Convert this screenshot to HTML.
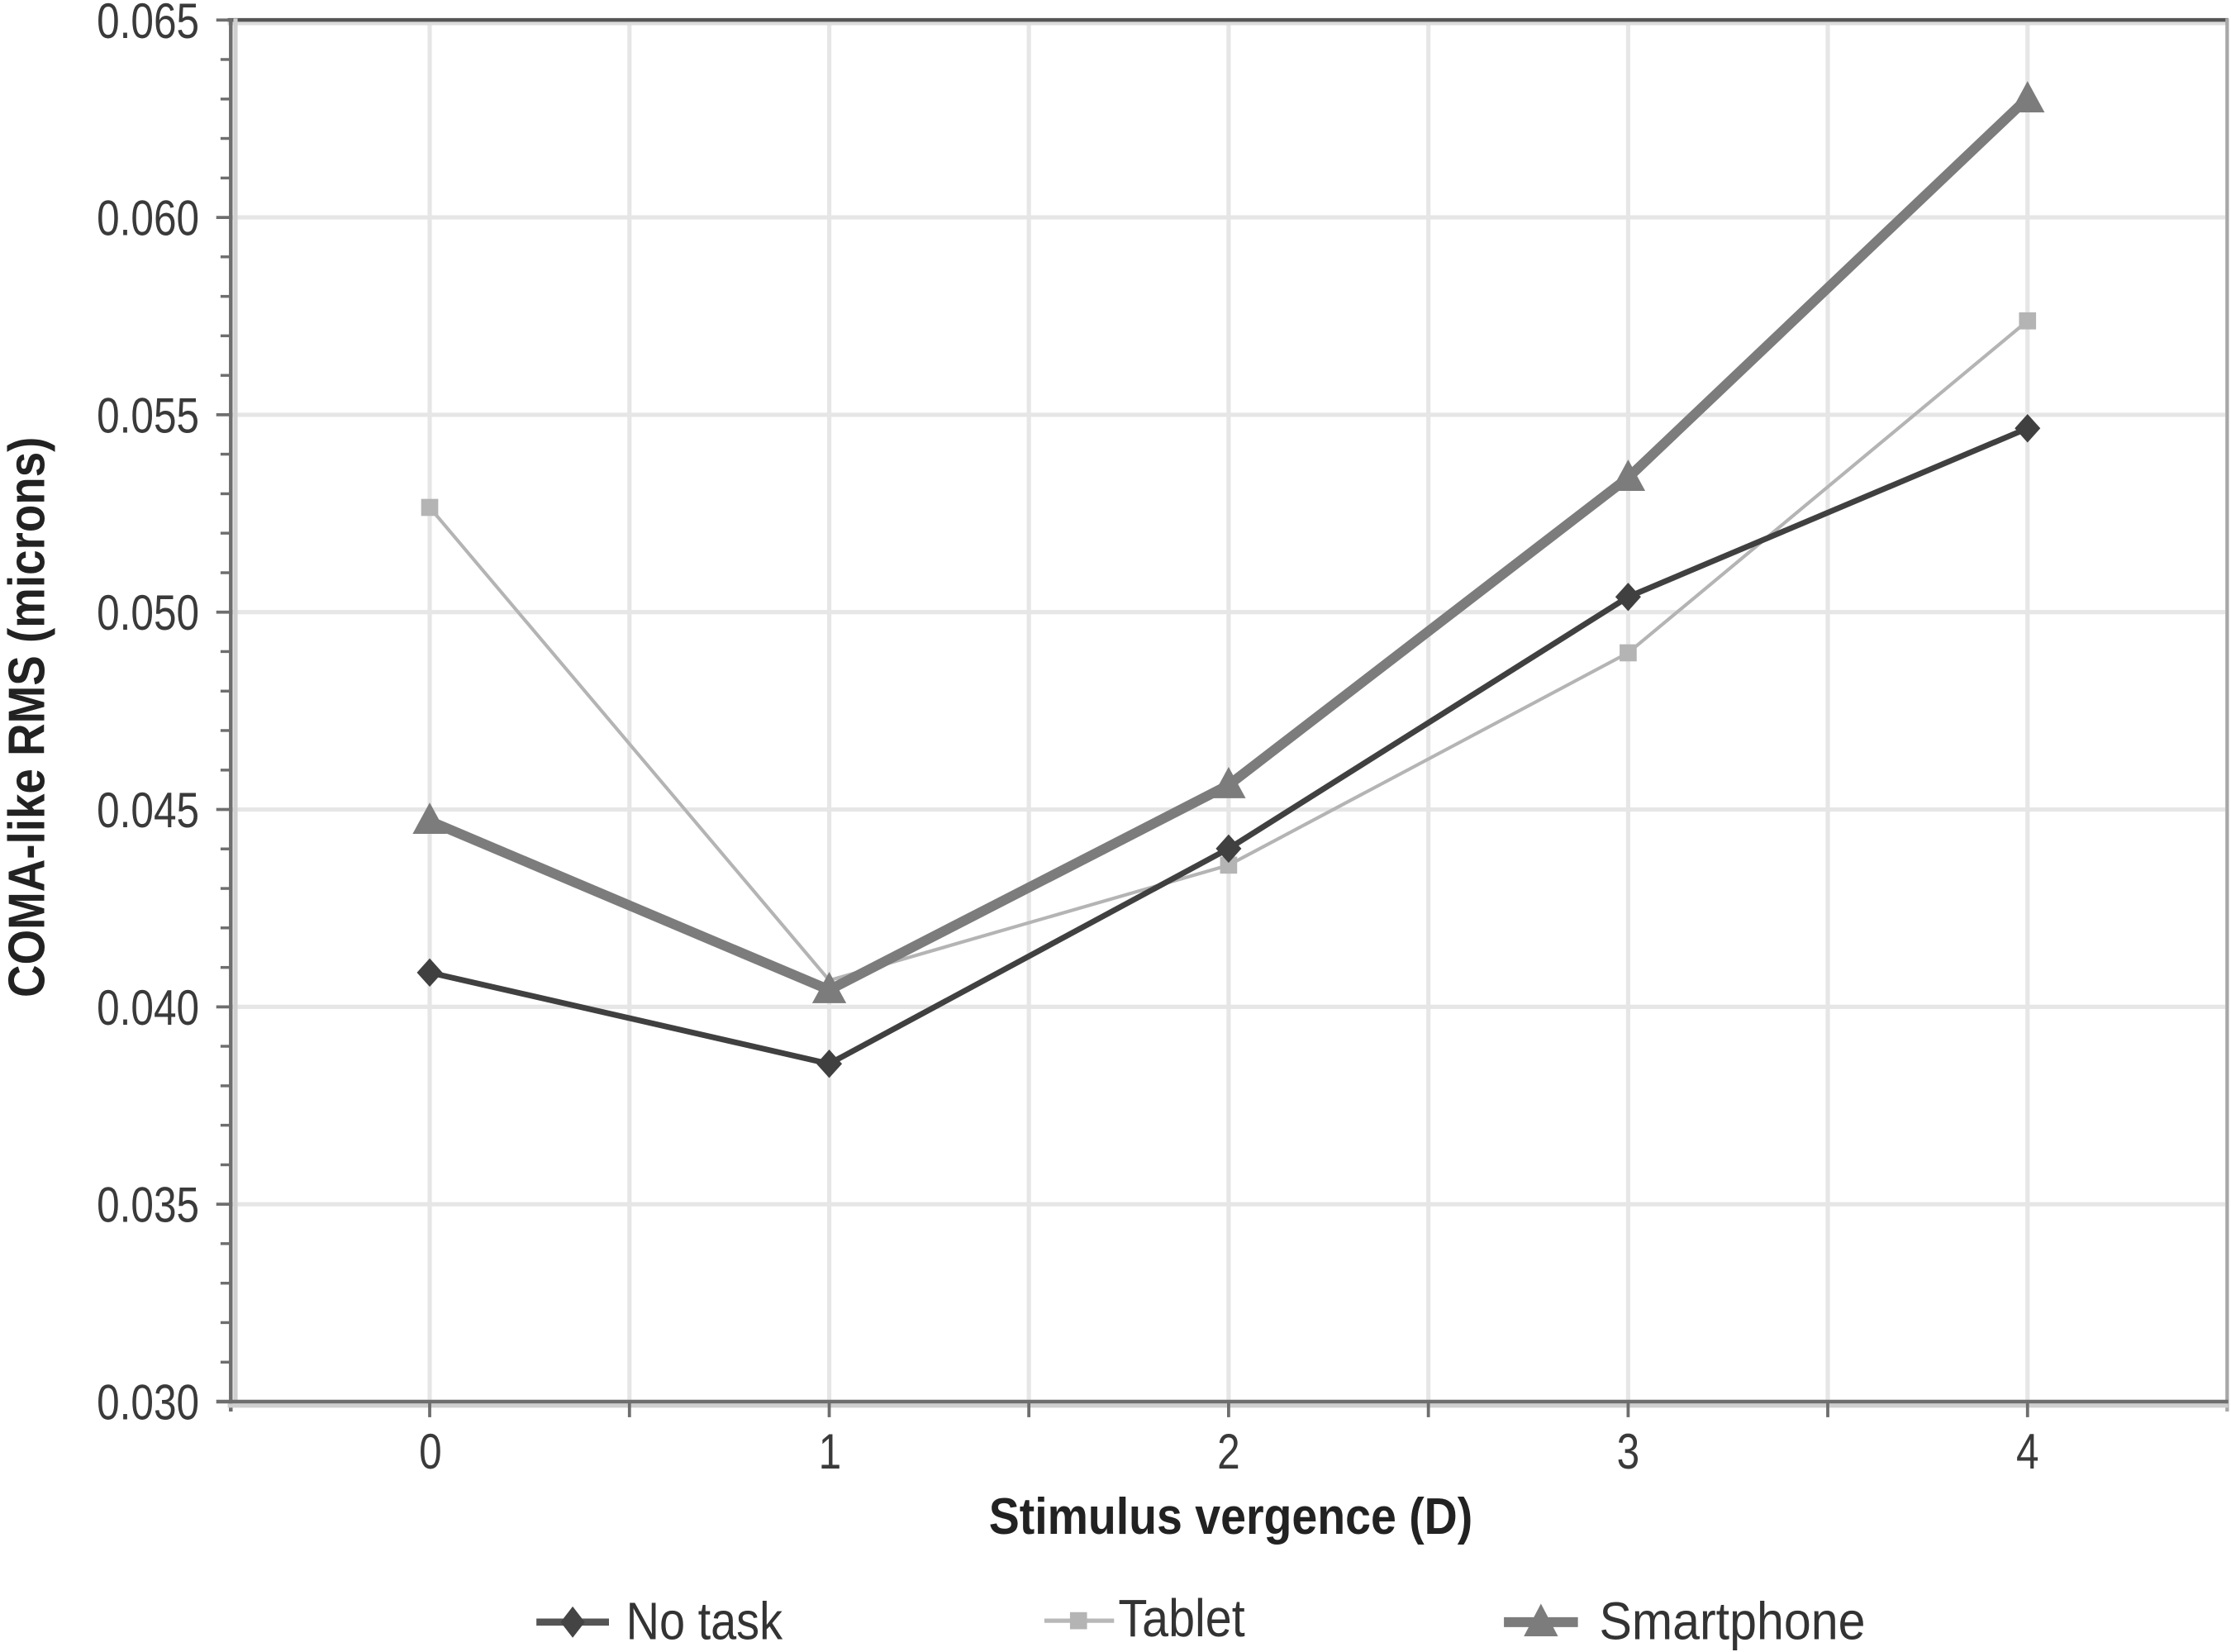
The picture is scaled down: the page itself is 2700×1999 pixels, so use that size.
<!DOCTYPE html>
<html>
<head>
<meta charset="utf-8">
<style>
html,body{margin:0;padding:0;background:#fff;}
svg{display:block;}
text{font-family:"Liberation Sans Narrow","Liberation Sans",sans-serif;}
</style>
</head>
<body>
<svg width="2700" height="1999" viewBox="0 0 1568 1161" preserveAspectRatio="none" xmlns="http://www.w3.org/2000/svg">
<rect x="0" y="0" width="1568" height="1161" fill="#fff"/>

<!-- vertical gridlines -->
<g stroke="#e6e6e6" stroke-width="3">
<line x1="302" y1="15" x2="302" y2="984"/>
<line x1="442.4" y1="15" x2="442.4" y2="984"/>
<line x1="582.8" y1="15" x2="582.8" y2="984"/>
<line x1="723.1" y1="15" x2="723.1" y2="984"/>
<line x1="863.5" y1="15" x2="863.5" y2="984"/>
<line x1="1003.9" y1="15" x2="1003.9" y2="984"/>
<line x1="1144.3" y1="15" x2="1144.3" y2="984"/>
<line x1="1284.6" y1="15" x2="1284.6" y2="984"/>
<line x1="1425" y1="15" x2="1425" y2="984"/>
</g>
<!-- horizontal gridlines -->
<g stroke="#e6e6e6" stroke-width="3">
<line x1="162" y1="152.8" x2="1564" y2="152.8"/>
<line x1="162" y1="291.5" x2="1564" y2="291.5"/>
<line x1="162" y1="430.2" x2="1564" y2="430.2"/>
<line x1="162" y1="568.9" x2="1564" y2="568.9"/>
<line x1="162" y1="707.6" x2="1564" y2="707.6"/>
<line x1="162" y1="846.3" x2="1564" y2="846.3"/>
</g>

<!-- frame -->
<line x1="160" y1="16.5" x2="1565" y2="16.5" stroke="#dcdcdc" stroke-width="2.5"/>
<line x1="160" y1="14" x2="1566" y2="14" stroke="#555" stroke-width="2.6"/>
<line x1="1565.3" y1="13" x2="1565.3" y2="992" stroke="#a8a8a8" stroke-width="2.5"/>
<line x1="165.5" y1="13" x2="165.5" y2="986" stroke="#cfcfcf" stroke-width="3"/>
<line x1="162.2" y1="13" x2="162.2" y2="992" stroke="#6e6e6e" stroke-width="2.6"/>
<line x1="160" y1="987.8" x2="1566" y2="987.8" stroke="#cfcfcf" stroke-width="3"/>
<line x1="152" y1="985" x2="1566" y2="985" stroke="#6e6e6e" stroke-width="2.6"/>

<!-- y ticks -->
<g stroke="#6e6e6e" stroke-width="2.2">
<line x1="152" y1="14.1" x2="162" y2="14.1"/>
<line x1="152" y1="152.8" x2="162" y2="152.8"/>
<line x1="152" y1="291.5" x2="162" y2="291.5"/>
<line x1="152" y1="430.2" x2="162" y2="430.2"/>
<line x1="152" y1="568.9" x2="162" y2="568.9"/>
<line x1="152" y1="707.6" x2="162" y2="707.6"/>
<line x1="152" y1="846.3" x2="162" y2="846.3"/>
</g>
<g stroke="#6e6e6e" stroke-width="2">
<line x1="155" y1="41.8" x2="162" y2="41.8"/><line x1="155" y1="69.6" x2="162" y2="69.6"/><line x1="155" y1="97.3" x2="162" y2="97.3"/><line x1="155" y1="125.1" x2="162" y2="125.1"/>
<line x1="155" y1="180.5" x2="162" y2="180.5"/><line x1="155" y1="208.3" x2="162" y2="208.3"/><line x1="155" y1="236" x2="162" y2="236"/><line x1="155" y1="263.8" x2="162" y2="263.8"/>
<line x1="155" y1="319.2" x2="162" y2="319.2"/><line x1="155" y1="347" x2="162" y2="347"/><line x1="155" y1="374.7" x2="162" y2="374.7"/><line x1="155" y1="402.5" x2="162" y2="402.5"/>
<line x1="155" y1="457.9" x2="162" y2="457.9"/><line x1="155" y1="485.7" x2="162" y2="485.7"/><line x1="155" y1="513.4" x2="162" y2="513.4"/><line x1="155" y1="541.2" x2="162" y2="541.2"/>
<line x1="155" y1="596.6" x2="162" y2="596.6"/><line x1="155" y1="624.4" x2="162" y2="624.4"/><line x1="155" y1="652.1" x2="162" y2="652.1"/><line x1="155" y1="679.9" x2="162" y2="679.9"/>
<line x1="155" y1="735.3" x2="162" y2="735.3"/><line x1="155" y1="763.1" x2="162" y2="763.1"/><line x1="155" y1="790.8" x2="162" y2="790.8"/><line x1="155" y1="818.6" x2="162" y2="818.6"/>
<line x1="155" y1="874" x2="162" y2="874"/><line x1="155" y1="901.8" x2="162" y2="901.8"/><line x1="155" y1="929.5" x2="162" y2="929.5"/><line x1="155" y1="957.3" x2="162" y2="957.3"/>
</g>
<!-- x ticks -->
<g stroke="#6e6e6e" stroke-width="2.2">
<line x1="302" y1="985" x2="302" y2="996"/>
<line x1="442.4" y1="985" x2="442.4" y2="996"/>
<line x1="582.8" y1="985" x2="582.8" y2="996"/>
<line x1="723.1" y1="985" x2="723.1" y2="996"/>
<line x1="863.5" y1="985" x2="863.5" y2="996"/>
<line x1="1003.9" y1="985" x2="1003.9" y2="996"/>
<line x1="1144.3" y1="985" x2="1144.3" y2="996"/>
<line x1="1284.6" y1="985" x2="1284.6" y2="996"/>
<line x1="1425" y1="985" x2="1425" y2="996"/>
</g>

<!-- y tick labels -->
<g font-size="35" fill="#3a3a3a" lengthAdjust="spacingAndGlyphs">
<text x="68" y="26.6" textLength="72" lengthAdjust="spacingAndGlyphs">0.065</text>
<text x="68" y="165.3" textLength="72" lengthAdjust="spacingAndGlyphs">0.060</text>
<text x="68" y="304" textLength="72" lengthAdjust="spacingAndGlyphs">0.055</text>
<text x="68" y="442.7" textLength="72" lengthAdjust="spacingAndGlyphs">0.050</text>
<text x="68" y="581.4" textLength="72" lengthAdjust="spacingAndGlyphs">0.045</text>
<text x="68" y="720.1" textLength="72" lengthAdjust="spacingAndGlyphs">0.040</text>
<text x="68" y="858.8" textLength="72" lengthAdjust="spacingAndGlyphs">0.035</text>
<text x="68" y="997.5" textLength="72" lengthAdjust="spacingAndGlyphs">0.030</text>
</g>
<!-- x tick labels -->
<g font-size="35" fill="#3a3a3a">
<text x="294.5" y="1032" textLength="16" lengthAdjust="spacingAndGlyphs">0</text>
<text x="575.3" y="1032" textLength="16" lengthAdjust="spacingAndGlyphs">1</text>
<text x="855.5" y="1032" textLength="16" lengthAdjust="spacingAndGlyphs">2</text>
<text x="1136.3" y="1032" textLength="16" lengthAdjust="spacingAndGlyphs">3</text>
<text x="1417" y="1032" textLength="16" lengthAdjust="spacingAndGlyphs">4</text>
</g>

<!-- axis titles -->
<text x="695" y="1078" font-size="36" font-weight="bold" fill="#222" textLength="340" lengthAdjust="spacingAndGlyphs">Stimulus vergence (D)</text>
<text x="0" y="0" font-size="36" font-weight="bold" fill="#222" textLength="394" lengthAdjust="spacingAndGlyphs" transform="translate(31 701) rotate(-90)">COMA-like RMS (microns)</text>

<!-- Tablet series -->
<polyline points="302,356.6 582.8,689 863.5,608 1144.3,458.8 1425,225.5" fill="none" stroke="#b4b4b4" stroke-width="2.4" stroke-linejoin="round"/>
<g fill="#b4b4b4">
<rect x="296" y="350.6" width="12" height="12"/>
<rect x="857.5" y="602" width="12" height="12"/>
<rect x="1138.3" y="452.8" width="12" height="12"/>
<rect x="1419" y="219.5" width="12" height="12"/>
</g>

<!-- No task series -->
<polyline points="302,683.5 582.8,747.6 863.5,596.4 1144.3,419.5 1425,301" fill="none" stroke="#404040" stroke-width="4" stroke-linejoin="round"/>
<g fill="#404040">
<polygon points="302,673.5 311,683.5 302,693.5 293,683.5"/>
<polygon points="582.8,737.6 591.8,747.6 582.8,757.6 573.8,747.6"/>
<polygon points="863.5,586.4 872.5,596.4 863.5,606.4 854.5,596.4"/>
<polygon points="1144.3,409.5 1153.3,419.5 1144.3,429.5 1135.3,419.5"/>
<polygon points="1425,291 1434,301 1425,311 1416,301"/>
</g>

<!-- Smartphone series -->
<polyline points="302,577 582.8,695.7 863.5,551.7 1144.3,335.7 1425,69" fill="none" stroke="#7c7c7c" stroke-width="7" stroke-linejoin="round"/>
<g fill="#7c7c7c">
<polygon points="302,564 314,586 290,586"/>
<polygon points="582.8,683 594.8,705 570.8,705"/>
<polygon points="863.5,539 875.5,561 851.5,561"/>
<polygon points="1144.3,323 1156.3,345 1132.3,345"/>
<polygon points="1425,57 1437,79 1413,79"/>
</g>

<!-- legend -->
<line x1="377" y1="1140" x2="428" y2="1140" stroke="#555" stroke-width="5"/>
<polygon points="402.5,1129 411,1140 402.5,1151 394,1140" fill="#444"/>
<text x="440" y="1152" font-size="37" fill="#333" textLength="110" lengthAdjust="spacingAndGlyphs">No task</text>

<line x1="734" y1="1139" x2="783" y2="1139" stroke="#b8b8b8" stroke-width="3"/>
<rect x="752" y="1133" width="12" height="12" fill="#b4b4b4"/>
<text x="786" y="1150" font-size="37" fill="#333" textLength="89" lengthAdjust="spacingAndGlyphs">Tablet</text>

<line x1="1057" y1="1140" x2="1109" y2="1140" stroke="#7c7c7c" stroke-width="7"/>
<polygon points="1083,1127 1095,1150 1071,1150" fill="#7c7c7c"/>
<text x="1124" y="1152" font-size="37" fill="#333" textLength="187" lengthAdjust="spacingAndGlyphs">Smartphone</text>
</svg>
</body>
</html>
